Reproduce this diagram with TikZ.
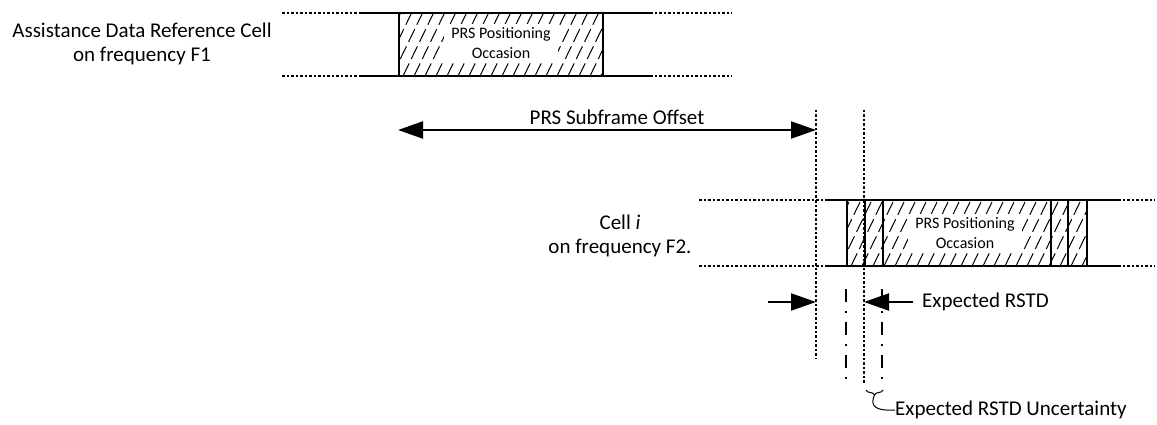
\documentclass[tikz,border=0pt]{standalone}
\usepackage{fontspec}
\setmainfont{Carlito}
\usetikzlibrary{arrows.meta,decorations.pathreplacing}

\begin{document}
\begin{tikzpicture}[x=1pt,y=-1pt,
  band/.style={line width=2pt},
  bandext/.style={line width=2pt, dash pattern=on 2.5pt off 2pt},
  guide/.style={line width=2.5pt, dash pattern=on 2.5pt off 2pt},
  dashdot/.style={line width=1.5pt, dash pattern=on 13pt off 9pt on 2pt off 9pt},
  occ/.style={line width=2pt},
  hatch/.style={line width=1pt, dash pattern=on 14pt off 5pt},
  lbl/.style={font=\fontsize{21}{24}\selectfont, align=center, inner sep=0pt},
  occlbl/.style={font=\fontsize{16}{20}\selectfont, align=center, fill=white, inner xsep=7pt, inner ysep=3pt},
  dimarrow/.style={line width=2pt, -{Triangle[length=25pt,width=17pt]}},
  both/.style={line width=2pt, {Triangle[length=25pt,width=17pt]}-{Triangle[length=25pt,width=17pt]}},
]
\useasboundingbox (0,0) rectangle (1157,425);

% ---------- hatched occasion boxes ----------
\newcommand{\hatchbox}[4]{%
  \begin{scope}
    \clip (#1,#2) rectangle (#3,#4);
    \foreach \hx in {0,11,...,300}
      \draw[hatch] ({#1-40+\hx},#4) -- ++(32,-66);
  \end{scope}}

\hatchbox{399}{13}{603}{76}
\draw[occ] (399,13) rectangle (603,76);
\node[occlbl] (occA) at (501,43) {PRS Positioning\\Occasion};

\hatchbox{847}{200}{1087}{266}
\draw[occ] (847,200) rectangle (1087,266);
\draw[occ] (865,200) -- (865,266);
\draw[occ] (883,200) -- (883,266);
\draw[occ] (1051,200) -- (1051,266);
\draw[occ] (1068,200) -- (1068,266);
\node[occlbl] (occB) at (965,233) {PRS Positioning\\Occasion};

% ---------- reference cell band ----------
\coordinate (ta0) at (282,13);  \coordinate (ta1) at (360,13);
\coordinate (ta2) at (650,13);  \coordinate (ta3) at (732,13);
\coordinate (ba0) at (282,76);  \coordinate (ba1) at (360,76);
\coordinate (ba2) at (650,76);  \coordinate (ba3) at (732,76);
\draw[bandext] (ta0) -- (ta1);
\draw[band] (ta1) -- (ta2);
\draw[bandext] (ta2) -- (ta3);
\draw[bandext] (ba0) -- (ba1);
\draw[band] (ba1) -- (ba2);
\draw[bandext] (ba2) -- (ba3);
\node[lbl] (reflbl) at (142,44) {Assistance Data Reference Cell\\on frequency F1};

% ---------- cell i band ----------
\coordinate (tb0) at (699,200);  \coordinate (tb1) at (827,200);
\coordinate (tb2) at (1118,200); \coordinate (tb3) at (1155,200);
\coordinate (bb0) at (699,266);  \coordinate (bb1) at (827,266);
\coordinate (bb2) at (1118,266); \coordinate (bb3) at (1155,266);
\draw[bandext] (tb0) -- (tb1);
\draw[band] (tb1) -- (tb2);
\draw[bandext] (tb2) -- (tb3);
\draw[bandext] (bb0) -- (bb1);
\draw[band] (bb1) -- (bb2);
\draw[bandext] (bb2) -- (bb3);
\node[lbl] (celllbl) at (620,236) {Cell \textit{i}\\on frequency F2.};

% ---------- timing guides ----------
\coordinate (g1t) at (816,110); \coordinate (g1b) at (816,359);
\coordinate (g2t) at (864,110); \coordinate (g2b) at (864,383);
\draw[guide] (g1t) -- (g1b);
\draw[guide] (g2t) -- (g2b);
\coordinate (u1t) at (846,289); \coordinate (u1b) at (846,383);
\coordinate (u2t) at (882,289); \coordinate (u2b) at (882,383);
\draw[dashdot] (u1t) -- (u1b);
\draw[dashdot] (u2t) -- (u2b);

% ---------- subframe offset ----------
\coordinate (offL) at (398,130); \coordinate (offR) at (816,130);
\draw[both] (offL) -- (offR);
\node[lbl] (offlbl) at (617,117) {PRS Subframe Offset};

% ---------- expected RSTD ----------
\coordinate (rL0) at (768,302); \coordinate (rL1) at (816,302);
\coordinate (rR0) at (913,302); \coordinate (rR1) at (864,302);
\draw[dimarrow] (rL0) -- (rL1);
\draw[dimarrow] (rR0) -- (rR1);
\node[lbl, anchor=west] (rstdlbl) at (922,302) {Expected RSTD};

% ---------- uncertainty ----------
\coordinate (brL) at (866,390); \coordinate (brR) at (883,390);
\draw[line width=1pt, decorate, decoration={brace, mirror, amplitude=5pt}] (brL) -- (brR);
\coordinate (brTip) at (874.5,395);
\node[lbl, anchor=west] (unclbl) at (895,410) {Expected RSTD Uncertainty};
\draw[line width=1pt] (brTip) .. controls (869,407) and (877,411) .. (unclbl.west);
\end{tikzpicture}
\end{document}
